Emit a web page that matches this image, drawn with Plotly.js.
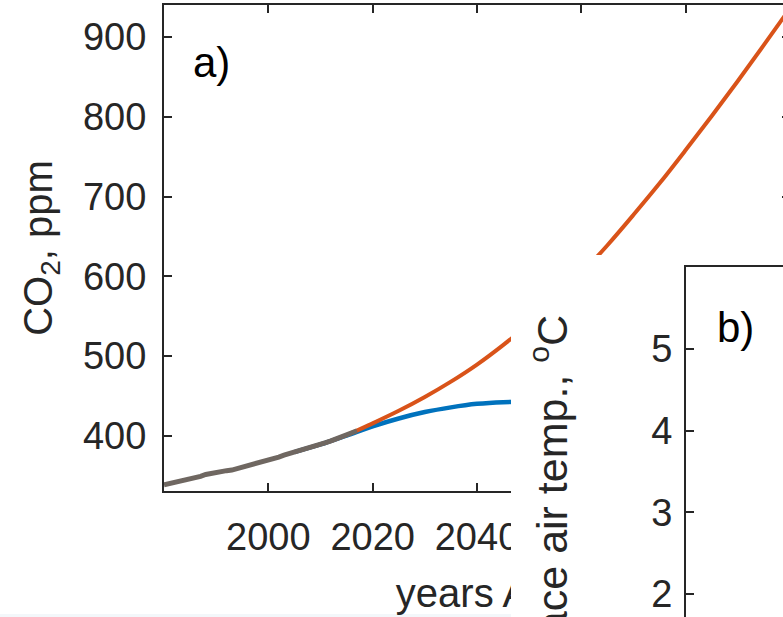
<!DOCTYPE html>
<html>
<head>
<meta charset="utf-8">
<script src="https://cdn.plot.ly/plotly-3.0.1.min.js"></script>
<style>
  html, body { margin: 0; padding: 0; background: #ffffff; overflow: hidden; }
  #chart { width: 790px; height: 617px; }
</style>
</head>
<body>
<div id="chart"></div>
<script>
// Observed atmospheric CO2 (annual means), ppm
const obsYears = [1980,1981,1982,1983,1984,1985,1986,1987,1988,1989,1990,1991,1992,1993,1994,
                  1995,1996,1997,1998,1999,2000,2001,2002,2003,2004,2005,2006,2007,2008,2009,
                  2010,2011,2012,2013,2014,2015,2016,2017];
const obsCO2 = [338.8,340.1,341.5,343.2,344.9,346.4,347.6,349.3,351.7,353.2,354.4,355.7,356.5,357.2,358.9,
                360.9,362.7,363.8,366.8,368.5,369.7,371.3,373.5,375.9,377.7,379.8,381.9,383.8,385.6,387.4,
                389.9,391.7,393.9,396.5,398.7,400.8,404.2,406.5];

// High-emission scenario, ppm
const highYears = [2005,2010,2015,2020,2025,2030,2035,2040,2045,2050,2055,2060,2065,2070,2075,2080,2085,2090,2095,2100];
const highCO2 = [379.8,389.3,401.0,415.8,431.5,448.8,468.0,489.4,513.8,540.5,570.0,603.5,639.0,677.1,716.5,758.2,801.0,844.8,890.0,935.9];

// Low-emission scenario, ppm
const lowYears = [2005,2010,2015,2020,2025,2030,2035,2040,2045,2050,2055,2060,2070,2080,2090,2100];
const lowCO2 = [379.8,389.3,400.5,412.1,421.9,429.9,435.8,440.2,442.3,442.7,442.5,441.7,437.5,432.0,426.3,420.9];

// Axis ticks
const co2Ticks = [400,500,600,700,800,900];
const yearTicks = [2000,2020,2040,2060,2080];
const tempTicks = [2,3,4,5];

// Panel texts
const xTitleA = 'years AD';
const yTitleA = 'CO<sub>2</sub>, ppm';
const yTitleB = 'Surface air temp., <sup>o</sup>C';
const panelA = 'a)';
const panelB = 'b)';

const W = 790, H = 617;
const px = v => v / W;          // pixel column -> paper x
const py = v => (H - v) / H;    // pixel row -> paper y

const FONT = 'Liberation Sans, Arial, Helvetica, sans-serif';
const INK = '#262626';

const traces = [
  { x: lowYears, y: lowCO2, xaxis: 'x', yaxis: 'y', mode: 'lines',
    line: { color: '#0072BD', width: 4.5, shape: 'spline' }, hoverinfo: 'skip' },
  { x: highYears, y: highCO2, xaxis: 'x', yaxis: 'y', mode: 'lines',
    line: { color: '#D95319', width: 4, shape: 'spline' }, hoverinfo: 'skip' },
  { x: obsYears, y: obsCO2, xaxis: 'x', yaxis: 'y', mode: 'lines',
    line: { color: '#6f6761', width: 5 }, hoverinfo: 'skip' },
  // empty series that register the backing panel and panel b)
  { x: [], y: [], xaxis: 'x2', yaxis: 'y2', mode: 'lines', hoverinfo: 'skip' },
  { x: [], y: [], xaxis: 'x3', yaxis: 'y3', mode: 'lines', hoverinfo: 'skip' }
];

const tickStyle = {
  ticks: 'inside', ticklen: 8, tickwidth: 2, tickcolor: INK,
  showline: true, linewidth: 2, linecolor: INK,
  showgrid: false, zeroline: false,
  tickfont: { family: FONT, size: 38, color: INK }
};

const blankAxis = {
  showline: false, showgrid: false, zeroline: false,
  showticklabels: false, ticks: '', range: [0, 1], fixedrange: true
};

const layout = {
  width: W, height: H,
  margin: { l: 0, r: 0, t: 0, b: 0 },
  paper_bgcolor: '#ffffff',
  plot_bgcolor: '#ffffff',
  showlegend: false,
  font: { family: FONT, color: INK },

  // panel a): CO2 concentration
  xaxis: Object.assign({}, tickStyle, {
    domain: [px(164), 1], anchor: 'y', range: [1980, 2100],
    tickvals: yearTicks, mirror: 'ticks', ticklabelstandoff: 11,
    title: { text: xTitleA, font: { family: FONT, size: 40, color: INK }, standoff: 22 }
  }),
  yaxis: Object.assign({}, tickStyle, {
    domain: [py(491), py(5)], anchor: 'x', range: [331, 940],
    tickvals: co2Ticks, mirror: 'ticks', ticklabelstandoff: 8,
    title: { text: yTitleA, font: { family: FONT, size: 40, color: INK }, standoff: 18 }
  }),

  // white backing of the panel b) figure, laid over panel a)
  xaxis2: Object.assign({}, blankAxis, { domain: [px(511), 1], anchor: 'y2' }),
  yaxis2: Object.assign({}, blankAxis, { domain: [0, py(255)], anchor: 'x2' }),

  // panel b): surface air temperature
  xaxis3: {
    domain: [px(686), 1], anchor: 'y3', side: 'top', range: [0, 1],
    showline: true, linewidth: 2, linecolor: INK, mirror: false,
    ticks: '', showticklabels: false, showgrid: false, zeroline: false
  },
  yaxis3: Object.assign({}, tickStyle, {
    domain: [0, py(267)], anchor: 'x3', range: [1.72, 6],
    tickvals: tempTicks, mirror: false, ticklabelstandoff: 4
  }),

  shapes: [
    { type: 'rect', xref: 'paper', yref: 'paper', layer: 'below',
      x0: 0, x1: px(511), y0: 0, y1: py(614),
      fillcolor: '#f3f7fa', line: { width: 0 } }
  ],

  annotations: [
    // keeps the tail of the panel a) x-title behind the panel b) figure
    { xref: 'paper', yref: 'paper', x: px(511), y: 0, xanchor: 'left', yanchor: 'bottom',
      text: ' ', width: 80, height: 60, bgcolor: '#ffffff', borderpad: 0, borderwidth: 0,
      showarrow: false },
    { xref: 'paper', yref: 'paper', x: px(549), y: py(515), xanchor: 'center', yanchor: 'middle',
      text: yTitleB, textangle: -90, showarrow: false,
      font: { family: FONT, size: 43, color: INK } },
    { xref: 'paper', yref: 'paper', x: px(191), y: py(62), xanchor: 'left', yanchor: 'middle',
      text: panelA, showarrow: false, font: { family: FONT, size: 42, color: '#000000' } },
    { xref: 'paper', yref: 'paper', x: px(715), y: py(327), xanchor: 'left', yanchor: 'middle',
      text: panelB, showarrow: false, font: { family: FONT, size: 42, color: '#000000' } }
  ]
};

Plotly.newPlot('chart', traces, layout, { displayModeBar: false, staticPlot: true });
</script>
</body>
</html>
